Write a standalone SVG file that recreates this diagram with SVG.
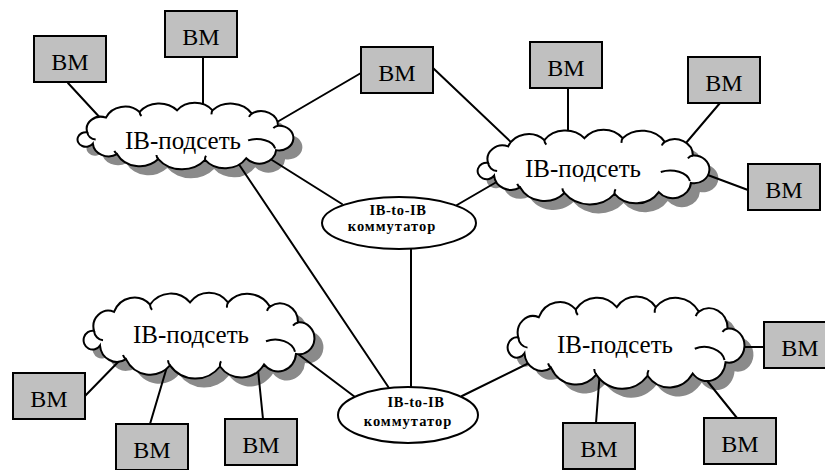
<svg xmlns="http://www.w3.org/2000/svg" xmlns:xlink="http://www.w3.org/1999/xlink" width="825" height="470" viewBox="0 0 825 470">
<style>
.box{fill:#c0c0c0;stroke:#000;stroke-width:2}
.bm{font-family:'Liberation Serif','Tinos','Times New Roman','DejaVu Serif',serif;font-size:24px;text-anchor:middle;fill:#000}
.conn line{stroke:#000;stroke-width:2;stroke-linecap:round}
.shadow{fill:#8a8a8a;stroke:none}
.body{fill:#fff;stroke:#000;stroke-width:2}
.curl{fill:none;stroke:#000;stroke-width:2}
.ct{font-family:'Liberation Serif','Tinos','Times New Roman','DejaVu Serif',serif;font-size:25px;text-anchor:middle;fill:#000}
.sw{fill:#fff;stroke:#000;stroke-width:2}
.st{font-family:'Liberation Serif','Tinos','Times New Roman','DejaVu Serif',serif;font-weight:bold;font-size:14.5px;text-anchor:middle;fill:#000}
</style>
<defs>
<path id="cloud" vector-effect="non-scaling-stroke" d="M -104,-4 A 15 15 0 0 1 -84,-22 A 22 22 0 0 1 -48,-29 A 26 26 0 0 1 -8,-31 A 24 24 0 0 1 30,-31 A 27 27 0 0 1 72,-27 A 18 18 0 0 1 100,-12 A 15.2 15.2 0 1 1 98,18 A 18 18 0 0 1 66,28 A 27 27 0 0 1 22,30 A 32 32 0 0 1 -28,29 A 27 27 0 0 1 -72,23 A 17 17 0 0 1 -98,10 A 9 9 0 1 1 -104,-4 Z"/>
<path id="curls" vector-effect="non-scaling-stroke" d="M -104,-4 A 10 10 0 0 0 -95,5 M 68,6 A 20 14 0 0 1 97,16 M -48,-29 a 8 8 0 0 0 2,5 M 30,-31 a 8 8 0 0 0 -1,5 M 72,-27 a 8 8 0 0 0 -3,4 M 22,30 a 8 8 0 0 1 1,-5 M -28,29 a 8 8 0 0 1 -2,-5 M -72,23 a 8 8 0 0 1 -3,-4 M 100,-12 a 8 8 0 0 0 -5,3"/>
</defs>
<rect width="825" height="470" fill="#fff"/>

<g id="shadows">
<use xlink:href="#cloud" class="shadow" transform="translate(193.5,144.5) scale(0.935,0.8125)"/>
<use xlink:href="#cloud" class="shadow" transform="translate(601.5,175.5) scale(1.004,0.9125)"/>
<use xlink:href="#cloud" class="shadow" transform="translate(207,344) scale(1.0,1.05)"/>
<use xlink:href="#cloud" class="shadow" transform="translate(634,351) scale(1.026,1.125)"/>
</g>

<g id="connectors" class="conn">
<line x1="68" y1="83" x2="104" y2="122"/>
<line x1="203" y1="57" x2="203" y2="112"/>
<line x1="361" y1="73" x2="272" y2="125"/>
<line x1="433" y1="68" x2="515" y2="146"/>
<line x1="568" y1="88" x2="568" y2="140"/>
<line x1="720" y1="103" x2="680" y2="150"/>
<line x1="748" y1="190" x2="697" y2="171"/>
<line x1="264" y1="155" x2="342" y2="204"/>
<line x1="236" y1="160" x2="389" y2="388"/>
<line x1="411" y1="249" x2="411" y2="387"/>
<line x1="500" y1="180" x2="457" y2="205"/>
<line x1="290" y1="348" x2="355" y2="397"/>
<line x1="531" y1="362" x2="462" y2="396"/>
<line x1="84" y1="397" x2="123" y2="357"/>
<line x1="150" y1="424" x2="169" y2="360"/>
<line x1="263" y1="419" x2="257" y2="360"/>
<line x1="596" y1="423" x2="600" y2="370"/>
<line x1="737" y1="418" x2="700" y2="372"/>
<line x1="764" y1="347" x2="735" y2="347"/>
</g>

<g id="cloud1">
<use xlink:href="#cloud" class="body" transform="translate(184.5,135.5) scale(0.935,0.8125)"/>
<use xlink:href="#curls" class="curl" transform="translate(184.5,135.5) scale(0.935,0.8125)"/>
<text class="ct" x="183" y="149">IB-подсеть</text>
</g>
<g id="cloud2">
<use xlink:href="#cloud" class="body" transform="translate(592.5,166.5) scale(1.004,0.9125)"/>
<use xlink:href="#curls" class="curl" transform="translate(592.5,166.5) scale(1.004,0.9125)"/>
<text class="ct" x="583" y="177">IB-подсеть</text>
</g>
<g id="cloud3">
<use xlink:href="#cloud" class="body" transform="translate(198,335) scale(1.0,1.05)"/>
<use xlink:href="#curls" class="curl" transform="translate(198,335) scale(1.0,1.05)"/>
<text class="ct" x="191" y="343">IB-подсеть</text>
</g>
<g id="cloud4">
<use xlink:href="#cloud" class="body" transform="translate(625,342) scale(1.026,1.125)"/>
<use xlink:href="#curls" class="curl" transform="translate(625,342) scale(1.026,1.125)"/>
<text class="ct" x="615" y="353">IB-подсеть</text>
</g>

<g id="switch1">
<ellipse class="sw" cx="399" cy="223" rx="77" ry="26"/>
<text class="st" x="398" y="215" letter-spacing="0.6">IB-to-IB</text>
<text class="st" x="392" y="231" letter-spacing="1">коммутатор</text>
</g>
<g id="switch2">
<ellipse class="sw" cx="408" cy="415" rx="70" ry="28"/>
<text class="st" x="416" y="407" letter-spacing="0.6">IB-to-IB</text>
<text class="st" x="408" y="426" letter-spacing="1">коммутатор</text>
</g>

<g id="vm1"><rect class="box" x="34" y="36" width="72" height="46"/><text class="bm" x="70" y="70">BM</text></g>
<g id="vm2"><rect class="box" x="165" y="11" width="72" height="46"/><text class="bm" x="201" y="45">BM</text></g>
<g id="vm3"><rect class="box" x="361" y="47" width="72" height="46"/><text class="bm" x="397" y="81">BM</text></g>
<g id="vm4"><rect class="box" x="530" y="42" width="72" height="46"/><text class="bm" x="566" y="76">BM</text></g>
<g id="vm5"><rect class="box" x="688" y="57" width="72" height="46"/><text class="bm" x="724" y="91">BM</text></g>
<g id="vm6"><rect class="box" x="748" y="164" width="72" height="46"/><text class="bm" x="784" y="198">BM</text></g>
<g id="vm7"><rect class="box" x="13" y="373" width="72" height="46"/><text class="bm" x="49" y="407">BM</text></g>
<g id="vm8"><rect class="box" x="116" y="424" width="72" height="46"/><text class="bm" x="152" y="458">BM</text></g>
<g id="vm9"><rect class="box" x="225" y="419" width="72" height="46"/><text class="bm" x="261" y="453">BM</text></g>
<g id="vm10"><rect class="box" x="563" y="423" width="72" height="46"/><text class="bm" x="599" y="457">BM</text></g>
<g id="vm11"><rect class="box" x="704" y="418" width="72" height="46"/><text class="bm" x="740" y="452">BM</text></g>
<g id="vm12"><rect class="box" x="764" y="322" width="72" height="46"/><text class="bm" x="800" y="356">BM</text></g>
</svg>
